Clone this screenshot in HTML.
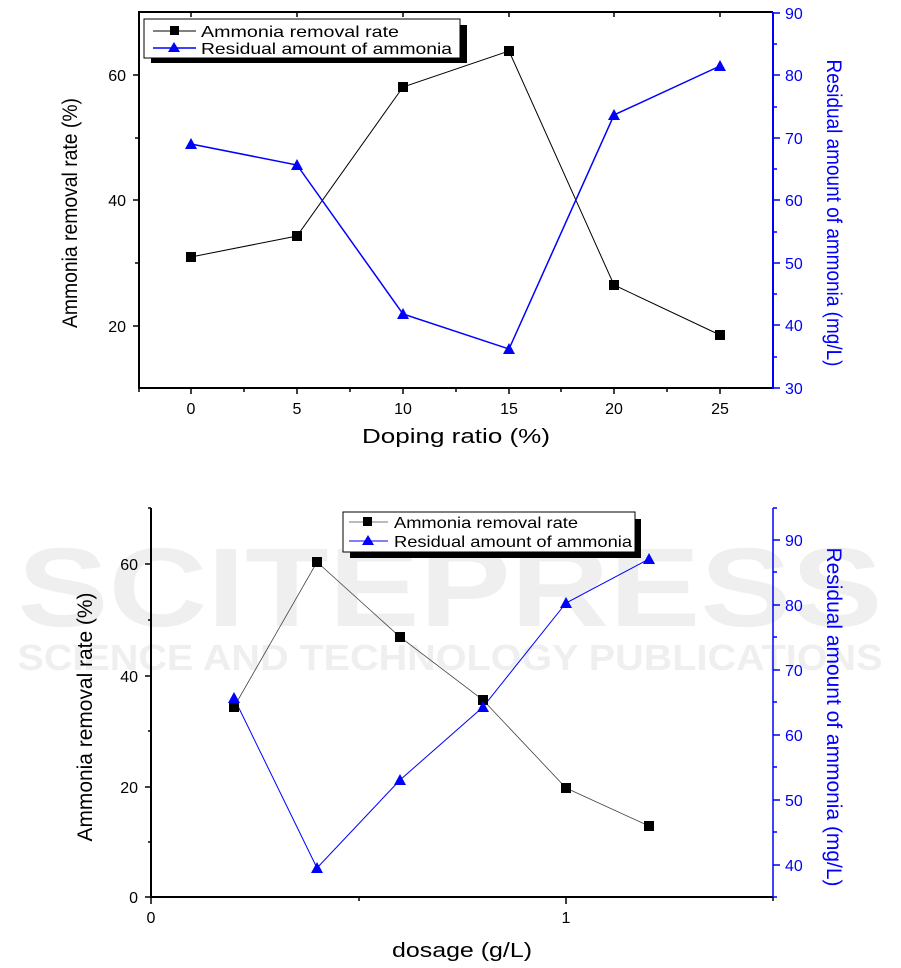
<!DOCTYPE html>
<html><head><meta charset="utf-8"><style>
html,body{margin:0;padding:0;background:#fff;}
svg{display:block;font-family:"Liberation Sans",Arial,sans-serif;}
</style></head><body>
<svg width="901" height="968" viewBox="0 0 901 968" xmlns="http://www.w3.org/2000/svg">
<!-- watermark -->
<text x="450" y="626" font-size="112" font-weight="bold" fill="#efefef" text-anchor="middle" textLength="865" lengthAdjust="spacingAndGlyphs">SCITEPRESS</text>
<text x="450" y="670" font-size="36" font-weight="bold" fill="#efefef" text-anchor="middle" textLength="865" lengthAdjust="spacingAndGlyphs">SCIENCE AND TECHNOLOGY PUBLICATIONS</text>

<!-- ===== TOP CHART ===== -->
<g stroke="#000" stroke-width="2" fill="none">
<line x1="139" y1="12" x2="139" y2="389"/>
<line x1="138" y1="388" x2="773" y2="388"/>
<line x1="138" y1="12" x2="773" y2="12"/>
</g>
<line x1="773" y1="12" x2="773" y2="389" stroke="#00f" stroke-width="2"/>
<g stroke="#000" stroke-width="1.5">
<line x1="139" y1="75" x2="133" y2="75"/><line x1="139" y1="200" x2="133" y2="200"/><line x1="139" y1="326" x2="133" y2="326"/>
<line x1="139" y1="138" x2="135" y2="138"/><line x1="139" y1="263" x2="135" y2="263"/>
<line x1="191" y1="388" x2="191" y2="394"/><line x1="297" y1="388" x2="297" y2="394"/><line x1="403" y1="388" x2="403" y2="394"/><line x1="509" y1="388" x2="509" y2="394"/><line x1="614" y1="388" x2="614" y2="394"/><line x1="720" y1="388" x2="720" y2="394"/>
<line x1="244" y1="388" x2="244" y2="392"/><line x1="350" y1="388" x2="350" y2="392"/><line x1="456" y1="388" x2="456" y2="392"/><line x1="561" y1="388" x2="561" y2="392"/><line x1="667" y1="388" x2="667" y2="392"/><line x1="139" y1="388" x2="139" y2="392"/>
<line x1="191" y1="12" x2="191" y2="17"/><line x1="297" y1="12" x2="297" y2="17"/><line x1="403" y1="12" x2="403" y2="17"/><line x1="509" y1="12" x2="509" y2="17"/><line x1="614" y1="12" x2="614" y2="17"/><line x1="720" y1="12" x2="720" y2="17"/>
</g>
<g stroke="#00f" stroke-width="1.5">
<line x1="773" y1="13" x2="780" y2="13"/><line x1="773" y1="75" x2="780" y2="75"/><line x1="773" y1="138" x2="780" y2="138"/><line x1="773" y1="200" x2="780" y2="200"/><line x1="773" y1="263" x2="780" y2="263"/><line x1="773" y1="325" x2="780" y2="325"/><line x1="773" y1="388" x2="780" y2="388"/>
<line x1="773" y1="44" x2="777" y2="44"/><line x1="773" y1="107" x2="777" y2="107"/><line x1="773" y1="169" x2="777" y2="169"/><line x1="773" y1="232" x2="777" y2="232"/><line x1="773" y1="294" x2="777" y2="294"/><line x1="773" y1="357" x2="777" y2="357"/>
</g>
<g font-size="16" fill="#000" text-anchor="end">
<text x="126" y="81">60</text><text x="126" y="206">40</text><text x="126" y="332">20</text>
</g>
<g font-size="16" fill="#00f">
<text x="785" y="19">90</text><text x="785" y="81">80</text><text x="785" y="144">70</text><text x="785" y="206">60</text><text x="785" y="269">50</text><text x="785" y="331">40</text><text x="785" y="394">30</text>
</g>
<g font-size="16" fill="#000" text-anchor="middle">
<text x="191" y="414">0</text><text x="297" y="414">5</text><text x="403" y="414">10</text><text x="509" y="414">15</text><text x="614" y="414">20</text><text x="720" y="414">25</text>
</g>
<text x="456" y="443" font-size="20" text-anchor="middle" textLength="188" lengthAdjust="spacingAndGlyphs">Doping ratio (%)</text>
<text transform="translate(77,213) rotate(-90)" font-size="21" text-anchor="middle" textLength="230" lengthAdjust="spacingAndGlyphs">Ammonia  removal rate (%)</text>
<text transform="translate(827,213) rotate(90)" font-size="21" fill="#00f" text-anchor="middle" textLength="307" lengthAdjust="spacingAndGlyphs">Residual amount of ammonia (mg/L)</text>
<polyline points="191,257 297,236 403,87 509,51 614,285 720,335" fill="none" stroke="#000" stroke-width="1"/>
<polyline points="191,144 297,165 403,314 509,349 614,115 720,66" fill="none" stroke="#00f" stroke-width="1.5"/>
<g fill="#000">
<rect x="186" y="252" width="10" height="10"/><rect x="292" y="231" width="10" height="10"/><rect x="398" y="82" width="10" height="10"/><rect x="504" y="46" width="10" height="10"/><rect x="609" y="280" width="10" height="10"/><rect x="715" y="330" width="10" height="10"/>
</g>
<g fill="#00f">
<polygon points="191,138 185,149 197,149"/><polygon points="297,159 291,170 303,170"/><polygon points="403,308 397,319 409,319"/><polygon points="509,343 503,354 515,354"/><polygon points="614,109 608,120 620,120"/><polygon points="720,60 714,71 726,71"/>
</g>
<rect x="151" y="25" width="316" height="38" fill="#000"/>
<rect x="144" y="19" width="316" height="39" fill="#fff" stroke="#000" stroke-width="1"/>
<line x1="153" y1="31" x2="196" y2="31" stroke="#000"/><rect x="170" y="26" width="9" height="9" fill="#000"/>
<text x="201" y="37" font-size="16" textLength="198" lengthAdjust="spacingAndGlyphs">Ammonia  removal rate</text>
<line x1="153" y1="48" x2="196" y2="48" stroke="#00f" stroke-width="1.5"/><polygon points="174,42 168,52 180,52" fill="#00f"/>
<text x="201" y="54" font-size="16" textLength="251" lengthAdjust="spacingAndGlyphs">Residual amount of ammonia</text>

<!-- ===== BOTTOM CHART ===== -->
<g stroke="#000" stroke-width="2" fill="none">
<line x1="151" y1="508" x2="151" y2="898"/>
<line x1="150" y1="897" x2="773" y2="897"/>
</g>
<line x1="773" y1="508" x2="773" y2="898" stroke="#00f" stroke-width="1.5"/>
<g stroke="#000" stroke-width="1.5">
<line x1="151" y1="564" x2="145" y2="564"/><line x1="151" y1="676" x2="145" y2="676"/><line x1="151" y1="787" x2="145" y2="787"/><line x1="151" y1="897" x2="145" y2="897"/>
<line x1="151" y1="508" x2="148" y2="508"/><line x1="151" y1="620" x2="148" y2="620"/><line x1="151" y1="731" x2="148" y2="731"/><line x1="151" y1="842" x2="148" y2="842"/>
<line x1="151" y1="897" x2="151" y2="904"/><line x1="566" y1="897" x2="566" y2="904"/><line x1="359" y1="897" x2="359" y2="901"/><line x1="773" y1="897" x2="773" y2="901"/>
</g>
<g stroke="#00f" stroke-width="1.5">
<line x1="773" y1="540" x2="780" y2="540"/><line x1="773" y1="605" x2="780" y2="605"/><line x1="773" y1="670" x2="780" y2="670"/><line x1="773" y1="735" x2="780" y2="735"/><line x1="773" y1="800" x2="780" y2="800"/><line x1="773" y1="865" x2="780" y2="865"/>
<line x1="773" y1="508" x2="777" y2="508"/><line x1="773" y1="572" x2="777" y2="572"/><line x1="773" y1="637" x2="777" y2="637"/><line x1="773" y1="702" x2="777" y2="702"/><line x1="773" y1="767" x2="777" y2="767"/><line x1="773" y1="832" x2="777" y2="832"/><line x1="773" y1="897" x2="777" y2="897"/>
</g>
<g font-size="16" fill="#000" text-anchor="end">
<text x="138" y="570">60</text><text x="138" y="682">40</text><text x="138" y="793">20</text><text x="138" y="903">0</text>
</g>
<g font-size="16" fill="#00f">
<text x="785" y="546">90</text><text x="785" y="611">80</text><text x="785" y="676">70</text><text x="785" y="741">60</text><text x="785" y="806">50</text><text x="785" y="871">40</text>
</g>
<g font-size="16" fill="#000" text-anchor="middle">
<text x="151" y="923">0</text><text x="566" y="923">1</text>
</g>
<text x="462" y="957" font-size="20" text-anchor="middle" textLength="140" lengthAdjust="spacingAndGlyphs">dosage (g/L)</text>
<text transform="translate(92,717) rotate(-90)" font-size="21" text-anchor="middle" textLength="249" lengthAdjust="spacingAndGlyphs">Ammonia removal rate (%)</text>
<text transform="translate(827,717) rotate(90)" font-size="21" fill="#00f" text-anchor="middle" textLength="339" lengthAdjust="spacingAndGlyphs">Residual amount of ammonia (mg/L)</text>
<polyline points="234,707 317,562 400,637 483,700 566,788 649,826" fill="none" stroke="#444" stroke-width="0.8"/>
<polyline points="234,698 317,868 400,780 483,707 566,603 649,559" fill="none" stroke="#00f" stroke-width="1"/>
<g fill="#000">
<rect x="229" y="702" width="10" height="10"/><rect x="312" y="557" width="10" height="10"/><rect x="395" y="632" width="10" height="10"/><rect x="478" y="695" width="10" height="10"/><rect x="561" y="783" width="10" height="10"/><rect x="644" y="821" width="10" height="10"/>
</g>
<g fill="#00f">
<polygon points="234,692 228,703 240,703"/><polygon points="317,862 311,873 323,873"/><polygon points="400,774 394,785 406,785"/><polygon points="483,701 477,712 489,712"/><polygon points="566,597 560,608 572,608"/><polygon points="649,553 643,564 655,564"/>
</g>
<rect x="350" y="519" width="291" height="39" fill="#000"/>
<rect x="343" y="512" width="292" height="40" fill="#fff" stroke="#000" stroke-width="1"/>
<line x1="349" y1="522" x2="388" y2="522" stroke="#777"/><rect x="363" y="517" width="9" height="9" fill="#000"/>
<text x="394" y="528" font-size="16" textLength="184" lengthAdjust="spacingAndGlyphs">Ammonia removal rate</text>
<line x1="349" y1="541" x2="388" y2="541" stroke="#00f"/><polygon points="368,535 362,545 374,545" fill="#00f"/>
<text x="394" y="547" font-size="16" textLength="238" lengthAdjust="spacingAndGlyphs">Residual amount of ammonia</text>
</svg>
</body></html>
